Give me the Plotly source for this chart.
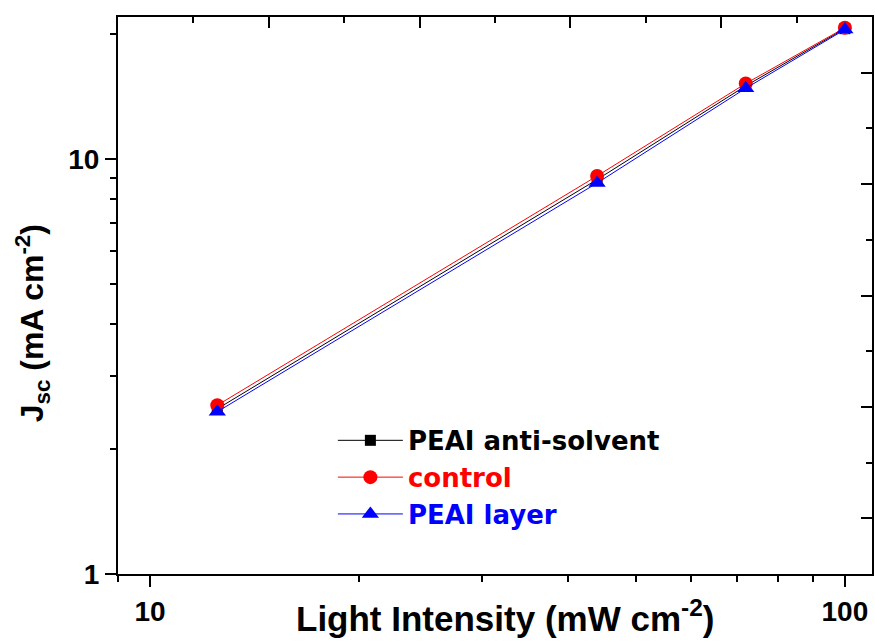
import plotly.graph_objects as go

# ---- data ----
intensity = [12.5, 44.0, 72.0, 100.0]           # mW cm^-2
jsc_antisolvent = [2.50, 8.92, 15.0, 20.6]       # mA cm^-2
jsc_control = [2.55, 9.10, 15.2, 20.7]
jsc_layer = [2.46, 8.75, 14.8, 20.5]

series_names = ["PEAI anti-solvent", "control", "PEAI layer"]
series_colors = ["#000000", "#FF0000", "#0000FF"]
series_symbols = ["square", "circle", "triangle-up"]

x_major_ticks = [10, 100]
x_minor_ticks = [9, 20, 30, 40, 50, 60, 70, 80, 90]
y_major_ticks = [1, 10]
y_minor_ticks = [2, 3, 4, 5, 6, 7, 8, 9, 20]

top_major_ticks = [30, 50, 70, 90]
top_minor_ticks = [20, 40, 60, 80, 100]
right_major_ticks = [1, 3, 5, 7, 9]
right_minor_ticks = [2, 4, 6, 8]

FONT = "Liberation Sans, Arial, sans-serif"
LEGEND_FONT = "DejaVu Sans, Liberation Sans, sans-serif"

fig = go.Figure()
for name, ys, col, sym, msize in zip(series_names,
                                     [jsc_antisolvent, jsc_control, jsc_layer],
                                     series_colors, series_symbols, [11, 14, 15]):
    fig.add_trace(go.Scatter(
        x=intensity, y=ys, mode="lines+markers",
        name=f'<span style="color:{col}">{name}</span>',
        line=dict(color=col, width=1),
        marker=dict(symbol=sym, size=msize, color=col),
    ))

# empty traces so the mirrored top / right frame axes are drawn
fig.add_trace(go.Scatter(x=[], y=[], xaxis="x2", yaxis="y", showlegend=False,
                         hoverinfo="skip"))
fig.add_trace(go.Scatter(x=[], y=[], xaxis="x", yaxis="y2", showlegend=False,
                         hoverinfo="skip"))

axis_common = dict(showline=True, linecolor="black", linewidth=2, showgrid=False,
                   zeroline=False, tickcolor="black", tickwidth=2)

fig.update_layout(
    width=875, height=642,
    margin=dict(l=118, r=3, t=17, b=68, autoexpand=False),
    paper_bgcolor="white", plot_bgcolor="white",
    font=dict(family=FONT, color="black"),
    xaxis=dict(type="log", range=[0.954, 2.039], tickvals=x_major_ticks,
               ticktext=[f"<b>{v}</b>" for v in x_major_ticks],
               ticks="outside", ticklen=11,
               tickfont=dict(family=FONT, size=28, color="black", weight="bold"),
               minor=dict(tickvals=x_minor_ticks, ticks="outside", ticklen=6,
                          tickcolor="black", tickwidth=2),
               **axis_common),
    yaxis=dict(type="log", range=[0.0, 1.342], tickvals=y_major_ticks,
               ticktext=[f"<b>{v}</b>" for v in y_major_ticks],
               ticks="outside", ticklen=11,
               tickfont=dict(family=FONT, size=28, color="black", weight="bold"),
               minor=dict(tickvals=y_minor_ticks, ticks="outside", ticklen=6,
                          tickcolor="black", tickwidth=2),
               **axis_common),
    xaxis2=dict(overlaying="x", side="top", anchor="y", range=[10, 110],
                tickvals=top_major_ticks, ticks="inside", ticklen=11,
                showticklabels=False,
                minor=dict(tickvals=top_minor_ticks, ticks="inside", ticklen=6,
                           tickcolor="black", tickwidth=2),
                **axis_common),
    yaxis2=dict(overlaying="y", side="right", anchor="x", range=[0, 10],
                tickvals=right_major_ticks, ticks="inside", ticklen=11,
                showticklabels=False,
                minor=dict(tickvals=right_minor_ticks, ticks="inside", ticklen=6,
                           tickcolor="black", tickwidth=2),
                **axis_common),
    legend=dict(x=0.285, y=0.282, xanchor="left", yanchor="top",
                bgcolor="rgba(0,0,0,0)", itemwidth=65,
                font=dict(family=LEGEND_FONT, size=26, weight="bold"),
                tracegroupgap=0),
    showlegend=True,
    annotations=[
        dict(text="<b>Light Intensity (mW cm<sup>-2</sup>)</b>", xref="paper",
             yref="paper", x=0.513, y=0, xanchor="center", yanchor="top",
             yshift=-18, showarrow=False, font=dict(family=FONT, size=35)),
        dict(text="<b>J<sub>sc</sub> (mA cm<sup>-2</sup>)</b>", xref="paper",
             yref="paper", x=0, y=0.45, xanchor="center", yanchor="middle",
             xshift=-86, textangle=-90, showarrow=False,
             font=dict(family=FONT, size=32)),
    ],
)

fig.write_html("out.html")
